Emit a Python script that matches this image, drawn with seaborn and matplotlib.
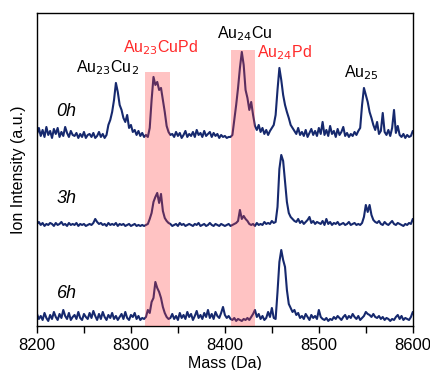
import numpy as np
import pandas as pd
import matplotlib
matplotlib.use("Agg")
import matplotlib.pyplot as plt
import seaborn as sns

# mass axis, one sample every 2 Da
mass = np.arange(8200, 8601, 2)

# intensities (a.u., baseline = 0)
int_0h = [6, 12, 4, 10, 3, 13, 5, 9, 2, 11, 6, 12, 3, 8, 4, 13, 7, 3, 9, 5,
          4, 7, 2, 6, 3, 8, 2, 5, 6, 3, 7, 2, 4, 8, 3, 6, 2, 5,
          15, 20, 28, 40, 57, 48, 35, 30, 22, 18, 25, 12, 15, 8, 10, 5, 9, 4, 7, 3,
          5, 3, 12, 40, 63, 55, 58, 50, 52, 40, 28, 14, 8, 5,
          6, 3, 8, 4, 7, 2, 5, 9, 3, 6, 4, 8, 3, 10, 5, 7, 3, 9, 4, 6, 8, 3, 7, 4, 6, 2, 5, 3, 4, 2, 3,
          3, 5, 20, 35, 52, 72, 88, 75, 50, 42, 30, 38, 25, 14, 10, 15,
          8, 12, 6, 10, 5, 9, 12, 15,
          25, 50, 72, 60, 45, 35, 28, 22, 15, 12, 9,
          6, 12, 5, 8, 4, 10, 3, 7, 11, 5, 9, 4, 12, 6, 18, 5, 10, 4, 14, 6, 9, 3, 11, 5, 8, 13, 4, 7, 3, 6, 4, 8, 5, 9,
          12, 35, 52, 45, 38, 28, 22, 15, 10, 18,
          6, 9, 27, 8, 5, 10, 4, 12, 30, 7, 14, 5, 3, 6, 2, 5, 3, 4, 9]

int_3h = [3, 5, 2, 4, 1, 3, 2, 4, 3, 1, 4, 2, 3, 5, 2, 3, 1, 4, 2, 3, 2, 4, 1, 3, 2, 3, 1, 2, 3, 2,
          4, 8, 5, 3, 4, 2,
          3, 1, 4, 2, 3, 2, 4, 1, 3, 2, 3, 1, 2, 3, 1, 2, 3, 1, 2, 1, 2, 1, 2,
          3, 8, 14, 25, 30, 34, 24, 33, 16, 9, 6, 4,
          3, 1, 2, 3, 1, 4, 2, 3, 1, 2, 3, 2, 1, 3, 2, 4, 1, 2, 3, 1, 2, 4, 2, 1, 3, 2, 1, 3, 2, 1, 2, 3, 1, 2, 3,
          4, 6, 17, 8, 11, 8, 6, 3,
          2, 3, 1, 4, 2, 3, 2, 5, 3, 4, 3, 6, 4,
          5, 20, 58, 72, 66, 45, 25, 14, 10, 8, 6,
          5, 8, 4, 6, 3, 5, 7, 10, 4, 6, 3, 5, 4, 3, 6, 2, 8, 3, 5, 2, 4, 3, 5, 2, 3, 4, 2, 3, 5, 2, 3, 4, 2, 3, 2, 4,
          10, 22, 15, 22, 12, 7, 5,
          4, 6, 3, 2, 5, 3, 2, 4, 6, 3, 2, 4, 3, 2, 1, 3, 2, 4, 3, 8]

int_6h = [8, 3, 6, 2, 9, 4, 1, 7, 3, 10, 5, 2, 8, 4, 12, 6, 3, 9, 2, 5,
          7, 3, 10, 4, 2, 8, 5, 3, 9, 4, 11, 6, 2, 8, 3, 10, 5, 2, 7, 4,
          9, 3, 6, 2, 5, 8, 3, 10, 4, 2, 7, 5, 9, 3, 6, 2, 4, 3,
          5, 12, 9, 20, 24, 40, 34, 30, 24, 15, 9, 5, 3,
          4, 8, 3, 6, 2, 9, 4, 7, 3, 10, 5, 8, 2, 6, 11, 4, 7, 3, 9, 5,
          12, 4, 8, 3, 10, 6, 4, 9, 15, 7, 4, 6, 3,
          2, 4, 1, 3, 2, 1, 3, 2, 4, 2, 5, 8, 12,
          5, 8, 3, 6, 2, 4, 10, 5, 14, 4,
          3, 30, 60, 72, 62, 55, 32, 18, 14, 10, 12, 7,
          9, 4, 6, 3, 8, 5, 2, 7, 4, 6, 3, 12, 5, 3, 2, 4, 1, 3, 2, 5,
          3, 6, 4, 2, 5, 7, 3, 6, 4, 8, 5, 3, 6, 2, 4, 6, 10, 8, 7, 5,
          8, 5, 4, 6, 3, 5, 2, 4, 3, 1, 3, 2, 5, 7, 3, 6, 2, 4, 3, 2, 5, 10]

times = ["0h", "3h", "6h"]
offsets = [186, 99, 4]

# highlighted mass windows (Au23CuPd, Au24Pd)
bands = [(8315, 8342), (8406, 8432)]
band_tops = [254, 276]

labels = ["Au$_{23}$Cu$_2$", "Au$_{23}$CuPd", "Au$_{24}$Cu", "Au$_{24}$Pd", "Au$_{25}$"]
label_x = [8242, 8292, 8392, 8434, 8527]
label_y = [258, 278, 292, 273, 253]
label_col = ["black", "#ff2a2a", "black", "#ff2a2a", "black"]

sns.set_style("white")
plt.rcParams["font.family"] = ["Liberation Sans", "DejaVu Sans"]
plt.rcParams["text.color"] = "black"
plt.rcParams["axes.labelcolor"] = "black"
plt.rcParams["xtick.color"] = "black"

fig = plt.figure(figsize=(4.3, 3.7), dpi=100)
ax = fig.add_axes([0.086, 0.119, 0.874, 0.846])

navy = "#16296e"
for t, off, vals in zip(times, offsets, [int_0h, int_3h, int_6h]):
    df = pd.DataFrame({"mass": mass, "y": np.array(vals) + off})
    sns.lineplot(data=df, x="mass", y="y", color=navy, linewidth=1.5, ax=ax, zorder=2)
    ax.text(8221, off + 28, t, fontsize=13, style="italic", ha="left", va="center")

for (x0, x1), top in zip(bands, band_tops):
    ax.fill_between([x0, x1], 0, top, color="#ff3a3a", alpha=0.3, linewidth=0, zorder=3)

for s, x, y, c in zip(labels, label_x, label_y, label_col):
    ax.text(x, y, s, color=c, fontsize=11.5, ha="left", va="center")

ax.set_xlim(8200, 8600)
ax.set_ylim(0, 313)
ax.set_xticks([8200, 8300, 8400, 8500, 8600])
ax.set_xticks([8250, 8350, 8450, 8550], minor=True)
ax.set_yticks([])
ax.tick_params(axis="x", which="both", direction="out", length=5, width=1,
               bottom=True, labelsize=12, colors="black")
ax.set_xlabel("Mass (Da)", fontsize=11.5, labelpad=2)
ax.set_ylabel("Ion Intensity (a.u.)", fontsize=11.5, labelpad=8)
for sp in ax.spines.values():
    sp.set_color("black")
    sp.set_linewidth(1.0)

plt.savefig("out.png", dpi=100)
